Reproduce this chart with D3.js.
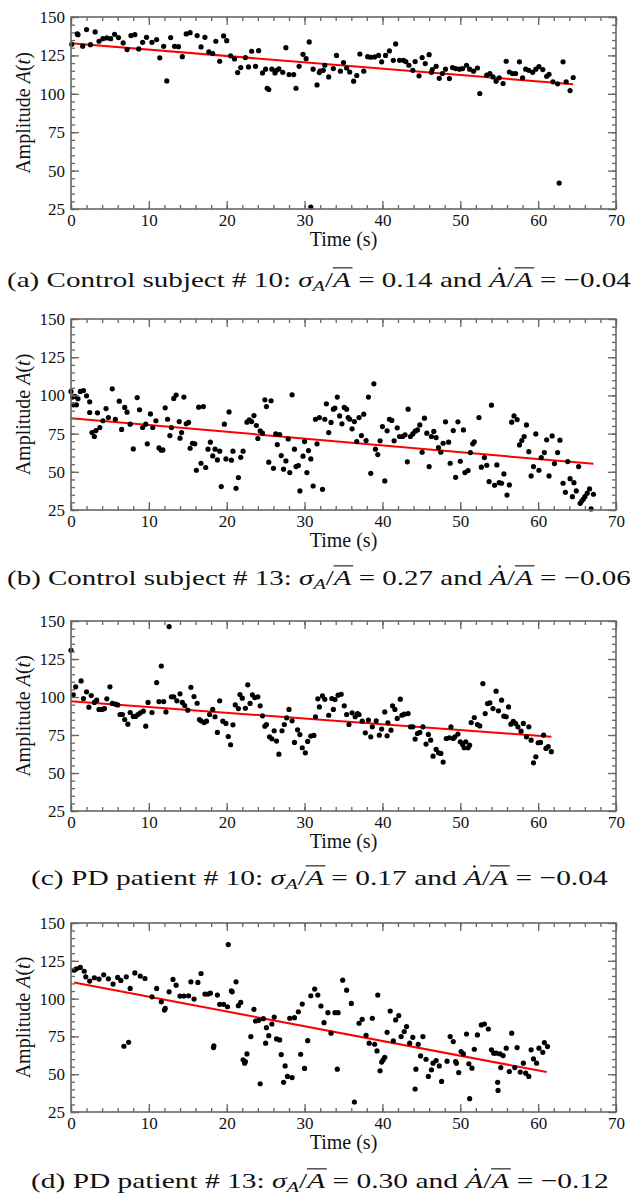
<!DOCTYPE html>
<html>
<head>
<meta charset="utf-8">
<script src="https://cdn.jsdelivr.net/npm/d3@7"></script>
<style>
  body { margin: 0; background: #fff; }
  svg text { font-family: "Liberation Serif", "Times New Roman", serif; fill: #111; }
</style>
</head>
<body>
<svg id="fig" width="636" height="1195"></svg>
<script>
// amplitude A(t) samples: [time (s), amplitude]
var pointsA = [[0.1,132.2],[0.8,139],[0.9,138.5],[1.5,131],[2.0,141.8],[2.5,132],[3.1,140.3],[3.6,134.2],[4.1,135.9],[4.6,136.4],[5.1,135.9],[5.6,138.7],[6.1,136.6],[6.7,133.1],[7.2,128.8],[7.7,137.9],[8.2,138.5],[8.7,129.2],[9.2,133.5],[9.7,136.8],[10.4,133.5],[11.0,135.3],[11.4,123.4],[11.9,130.9],[12.3,108.4],[12.8,136.6],[13.3,130.9],[13.8,130.7],[14.3,124.2],[14.8,139],[15.3,139.8],[16.2,137.9],[16.7,130.5],[17.2,136.8],[17.7,127.3],[18.2,126.2],[18.6,134.2],[19.1,121.2],[19.6,137.7],[20.0,134.6],[20.5,124.7],[21.0,122.7],[21.4,113.8],[21.8,117.1],[22.4,123.6],[22.8,117.5],[23.2,127.7],[23.7,117.9],[24.1,128.1],[24.6,113.6],[25.0,116],[25.2,103.6],[25.4,102.8],[25.8,116],[26.2,113.6],[26.4,115.3],[26.7,116.2],[27.2,114],[27.6,130],[28.0,112.5],[28.6,112.5],[28.9,103.6],[29.3,117.9],[29.8,125.7],[30.2,122.9],[30.6,133.8],[30.8,26.3],[31.1,116],[31.6,105.8],[31.9,113.8],[32.0,114.7],[32.4,115.3],[32.6,118.6],[33.1,111],[33.7,116.4],[34.1,125],[34.6,114.7],[35.0,120.3],[35.4,116.8],[35.8,114.2],[36.3,108.2],[36.7,111.9],[37.1,125.9],[37.6,114.7],[38.1,124.2],[38.5,123.8],[39.0,124],[39.5,125],[39.9,120.8],[40.4,125],[40.9,127.9],[41.4,121.8],[41.7,132.5],[42.2,121.8],[42.7,121.8],[43.0,121],[43.4,118.6],[43.9,115.3],[44.2,121],[44.7,111.7],[45.1,123.6],[45.5,119.7],[46.0,125.5],[46.3,114],[46.4,115.8],[46.9,117.9],[47.3,110.1],[47.7,113.2],[48.1,116],[48.6,109.9],[49.0,117.1],[49.4,116.4],[49.9,116],[50.3,116.4],[50.8,118.6],[51.2,116],[51.7,114.7],[52.2,116.8],[52.5,100.2],[53.4,112.1],[53.8,113.2],[54.2,111],[54.6,108.2],[55.0,110.4],[55.5,106.7],[55.9,121.2],[56.3,114.2],[56.7,113.2],[57.1,113.2],[57.6,120.8],[58.0,110.4],[58.4,116],[58.8,115.3],[59.3,114],[59.7,116],[60.1,117.7],[60.6,115.8],[61.1,111.4],[61.4,112.7],[61.9,107.8],[62.5,106.5],[62.7,41.9],[63.2,120.8],[63.6,107.8],[64.1,102.1],[64.5,110.6]];

var pointsB = [[0,102.6],[0.2,98.9],[0.3,93.8],[0.5,99.3],[0.7,93.8],[0.9,97.8],[1.2,102.6],[1.6,103.2],[2.0,99.7],[2.4,95.8],[2.4,88.8],[2.7,75.7],[3.0,73.1],[3.2,77],[3.4,88.6],[3.7,79],[4.1,83.4],[4.5,91.4],[4.8,85.5],[5.3,104.3],[5.7,84.4],[6.2,96.2],[6.5,77.7],[6.9,92.1],[7.2,89],[7.6,81.2],[8.0,65],[8.5,98.6],[8.8,90.6],[9.2,79],[9.6,81.2],[9.8,68.3],[10.2,87.9],[10.5,79],[10.9,83.4],[11.3,65.6],[11.6,64.1],[11.8,64.3],[12.1,91.9],[12.4,84.4],[12.7,73.7],[12.9,79],[13.2,98],[13.5,100.2],[13.9,82.9],[14.0,72],[14.2,75.7],[14.5,98.9],[14.8,81.4],[15.1,82.3],[15.3,65.4],[15.6,68.7],[15.9,68.3],[16.1,51],[16.4,92.3],[16.7,55.6],[17.0,92.7],[17.3,52.8],[17.6,64.8],[17.9,69.4],[18.2,60.4],[18.5,64.8],[18.8,57.8],[19.1,63.5],[19.3,40.3],[19.7,81.2],[19.9,58.4],[20.3,89.2],[20.6,57.6],[20.8,63.5],[21.2,39.2],[21.5,46.2],[21.8,59.5],[22.1,63.5],[22.6,82.5],[22.9,84],[23.2,82.9],[23.5,86.8],[23.8,80.3],[24.0,71.8],[24.3,76.8],[24.6,75.3],[24.9,97.1],[25.1,92.7],[25.4,56.3],[25.7,96.5],[26.0,52.3],[26.3,74.8],[26.5,67.8],[26.8,74.4],[27.0,60.6],[27.3,51.7],[27.6,57.1],[27.9,71.5],[28.1,49.5],[28.4,100.4],[28.7,64.8],[28.9,53.4],[29.2,54.1],[29.4,37.5],[29.8,60.2],[30.0,69.8],[30.3,49.5],[30.5,63.9],[30.8,58.4],[31.1,40.7],[31.4,84.4],[31.6,68.3],[31.9,85.5],[32.3,38.5],[32.6,84.4],[32.8,94.5],[33.1,75.7],[33.4,82.3],[33.7,91],[33.9,91.7],[34.2,98.9],[34.5,86.6],[34.8,81.4],[35.1,92.1],[35.4,91],[35.6,85.5],[35.8,84.4],[36.1,78.1],[36.4,82.9],[36.7,69.8],[37.0,85.5],[37.3,73.7],[37.6,87.7],[37.9,70.5],[38.2,98.9],[38.5,49],[38.9,107.6],[39.1,64.8],[39.4,61.3],[39.7,70.3],[40.0,79.6],[40.3,44],[40.6,76.8],[40.9,84.4],[41.2,83.6],[41.5,70.3],[41.9,78.8],[42.2,73.1],[42.6,73.1],[42.9,74.2],[43.2,56.5],[43.3,91],[43.6,73.1],[43.9,74.8],[44.2,76.6],[44.5,77.4],[44.8,80.7],[45.1,62.8],[45.4,85.1],[45.7,75.3],[46.0,53.4],[46.3,73.1],[46.6,76.4],[46.9,72.4],[47.2,65.9],[47.5,62.8],[47.8,68.7],[48.1,82.7],[48.5,69.4],[48.7,55.6],[49.1,77],[49.4,46.4],[49.7,82.7],[50.0,56.9],[50.4,77.4],[50.6,49.5],[51.0,50.8],[51.3,62.6],[51.6,68.3],[51.8,69.6],[52.4,85.5],[52.7,53],[53.1,59.3],[53.4,54.3],[53.7,43.6],[54.0,93.6],[54.4,41.2],[54.7,54.5],[55.0,42.9],[55.3,42.5],[55.6,48.6],[56.0,34.8],[56.3,41.4],[56.6,82.5],[56.9,86.6],[57.3,84.2],[57.6,67.6],[57.9,70.5],[58.2,73.1],[58.5,80.7],[58.8,63.2],[59.1,47.3],[59.4,53.4],[59.7,74.8],[60.1,51],[60.4,59.3],[60.8,62.6],[61.1,70.9],[61.4,47.3],[61.8,73.5],[62.1,55.4],[62.5,62.6],[62.8,70.7],[63.2,42.5],[63.5,36.6],[63.8,56.7],[64.1,45.5],[64.4,33.7],[64.6,42.9],[64.9,37.5],[65.2,53.4],[65.4,29.4],[65.6,30.9],[65.8,32.2],[66.0,33.7],[66.3,36],[66.6,38.8],[66.8,25.7],[67.1,35.3]];

var pointsC = [[0,130.7],[0.3,101.4],[0.6,106.7],[1.3,110.6],[1.6,99],[2.0,103.4],[2.3,93.3],[2.6,101],[3.0,96.4],[3.3,97.9],[3.6,91.8],[4.0,91.8],[4.3,92.4],[4.6,98.8],[5.0,106.7],[5.3,95.8],[5.7,95.3],[6.0,94.8],[6.3,88.5],[6.6,88.5],[6.9,85.2],[7.3,82.1],[7.6,89.8],[8.0,87.2],[8.3,87.2],[8.6,88.5],[8.9,89.6],[9.3,90.7],[9.6,80.8],[9.9,96.4],[10.4,89.8],[11.0,109.5],[11.3,97],[11.6,120.4],[11.9,97],[12.2,90.2],[12.6,146.3],[12.9,100.1],[13.2,100.1],[13.6,97.5],[14.0,102.1],[14.3,96.4],[14.6,94.4],[15.0,91.3],[15.4,106.4],[15.8,100.3],[16.2,95.9],[16.5,85.2],[16.7,84.3],[17.1,83.2],[17.4,84.1],[17.8,88.5],[18.2,91.8],[18.5,87],[18.8,76.7],[19.1,97.5],[19.5,84.1],[19.9,82.6],[20.2,74],[20.5,68.6],[20.8,81.7],[21.1,94.8],[21.5,92.4],[21.7,101.6],[22.0,99.2],[22.4,92.6],[22.7,108],[23.0,95.8],[23.3,101.4],[23.6,99.6],[24.0,100.1],[24.3,94.2],[24.6,87.6],[24.9,80.8],[25.1,81.9],[25.5,73.8],[25.8,72.5],[26.1,77.8],[26.4,71],[26.7,62.4],[27.1,77.8],[27.4,81.9],[27.7,86.3],[28.0,91.8],[28.4,84.3],[28.7,70.1],[29.1,78.4],[29.4,75.3],[29.7,66.6],[30.1,63.3],[30.4,70.8],[30.8,74.3],[31.2,74.7],[31.4,87],[31.7,98.8],[31.9,93.5],[32.3,100.7],[32.6,98.5],[33.1,88],[33.5,99],[33.7,91.8],[33.9,98.3],[34.3,101.2],[34.7,101.8],[35.1,94.2],[35.4,88.5],[35.7,81.9],[36.1,89.6],[36.5,87],[36.8,89.1],[37.0,88.5],[37.4,84.1],[37.8,76.4],[38.2,84.8],[38.5,73.8],[38.7,80.4],[39.2,84.3],[39.6,74.9],[39.9,78.9],[40.3,90.2],[40.6,74.5],[40.7,83],[41.1,78.2],[41.3,94.2],[41.6,91.8],[41.9,85.9],[42.3,98.6],[42.5,88],[42.8,88.7],[43.3,89.1],[43.6,80.4],[43.9,80.4],[44.2,72.3],[44.5,76],[44.8,76.7],[45.2,80.4],[45.6,69],[45.9,75.4],[46.2,71.6],[46.5,61.1],[46.9,65.5],[47.2,63.3],[47.5,62.9],[47.8,57.2],[48.2,72.7],[48.6,73.2],[48.8,80.4],[49.1,72.7],[49.3,73.8],[49.7,75.6],[50.0,70.5],[50.3,68.8],[50.5,66.6],[50.7,70.5],[51.0,66.6],[51.2,68.3],[51.4,83.2],[51.8,86.5],[52.2,81.9],[52.5,81],[52.9,108.8],[53.2,89.1],[53.5,95.7],[53.8,96.1],[54.2,92.4],[54.6,103.8],[54.9,90.9],[55.3,97.9],[55.6,87.4],[55.9,87],[56.2,93.5],[56.5,82.1],[56.8,83.9],[57.1,82.6],[57.4,80.4],[57.8,77.5],[58.1,82.6],[58.5,73.8],[58.8,80.4],[59.1,71.6],[59.4,56.7],[59.7,60.7],[60.0,69.9],[60.3,70.1],[60.7,74.9],[61.0,66.2],[61.3,67.3],[61.7,64]];

var pointsD = [[0.4,118.8],[0.7,119.7],[1.2,120.6],[1.7,118.1],[1.9,114.4],[2.4,111.6],[3.0,113.8],[3.6,112.9],[4.2,115.7],[4.8,113.1],[5.4,109.6],[6.0,114],[6.4,112],[6.8,68.5],[7.1,114.4],[7.4,71.1],[7.6,106.7],[8.2,117],[8.9,114.9],[9.5,113.3],[10.4,101.2],[11.0,106.7],[11.6,97.9],[12.0,92.4],[12.1,93.5],[12.6,104.5],[13.1,112.7],[13.5,108.9],[14.0,101.7],[14.5,101.7],[15.1,101.9],[15.4,111.1],[15.8,99.7],[16.3,110.7],[16.7,116.6],[17.2,103],[17.6,103],[17.9,103.6],[18.3,67.6],[18.35,68.7],[18.8,102.3],[19.1,96.2],[19.6,96.2],[20.1,94.6],[20.2,135.7],[20.6,105.2],[20.7,104.5],[21.2,111.1],[21.5,95.3],[21.8,97.5],[22.1,59.5],[22.3,57.3],[22.4,58.4],[22.6,63.4],[23.1,74.9],[23.5,92.9],[23.7,85.2],[24.1,85.6],[24.3,43.7],[24.7,86.7],[25.0,70.5],[25.1,80.8],[25.4,75.5],[25.8,83.2],[26.1,87.8],[26.4,73.3],[26.8,72.7],[27.0,63],[27.3,44.6],[27.5,55.5],[27.8,48.5],[28.1,87],[28.4,47.8],[28.7,87.4],[29.2,91.3],[29.5,63.2],[29.7,96.4],[30.0,53.8],[30.4,72.2],[30.8,101.9],[31.3,106.3],[31.7,102.3],[32.1,95.1],[32.5,84.1],[33.0,90.7],[33.4,77.1],[33.9,90.7],[34.2,53.3],[34.3,90.7],[34.9,112.2],[35.4,105.6],[36.0,96.8],[36.4,31.6],[37.0,83.7],[37.4,86.3],[37.9,75.7],[38.3,70.5],[38.7,87],[39.0,69.8],[39.3,65.4],[39.4,102.3],[39.7,52.2],[39.9,58],[40.1,59.5],[40.3,61.2],[40.6,77.7],[41.0,91.8],[41.4,72],[41.7,85.9],[42.1,88.7],[42.4,74.9],[42.8,78.2],[43.1,81.5],[43.5,70.5],[43.9,74.4],[44.2,40.2],[44.3,53.3],[44.6,69.8],[44.9,62.1],[45.2,74.9],[45.6,59.9],[45.9,48.5],[46.3,52.9],[46.5,57.3],[46.9,59],[47.3,55.5],[47.6,45.2],[48.3,58.6],[48.7,74.9],[49.1,71.6],[49.4,58.4],[49.5,57.3],[49.8,51.1],[50.1,65],[50.4,63.4],[50.8,76.6],[51.1,56.9],[51.2,33.8],[51.5,54],[51.8,66.5],[52.2,76],[52.7,82.6],[53.1,83.2],[53.6,79.9],[54.0,66.1],[54.3,63.9],[54.6,63.9],[54.8,44.6],[54.85,39.3],[55.1,63.4],[55.2,54.4],[55.5,62.3],[55.9,67.2],[56.3,51.8],[56.6,77.1],[57.0,54.4],[57.3,67.6],[57.7,51.4],[58.1,57.3],[58.4,50.7],[58.8,48.5],[59.1,66.1],[59.4,60.1],[59.8,57.3],[60.1,67.2],[60.6,64.5],[60.8,70.9],[61.2,68.3]];

// red linear fits, start and end [time, amplitude]
var fitA = [[0, 132.9], [64.5, 106.2]];
var fitB = [[0, 85.1], [67.1, 55.2]];
var fitC = [[0, 97.2], [61.7, 73.8]];
var fitD = [[0.4, 110.6], [61.1, 51.4]];

// caption parts
var captionLabels = ["(a) Control subject # 10:", "(b) Control subject # 13:", "(c) PD patient # 10:", "(d) PD patient # 13:"];
var sigmaValues = ["0.14", "0.27", "0.17", "0.30"];
var slopeValues = ["\u22120.04", "\u22120.06", "\u22120.04", "\u22120.12"];

// axis ticks
var xMajor = [0, 10, 20, 30, 40, 50, 60, 70];
var yMajor = [25, 50, 75, 100, 125, 150];
var xDomain = [0, 70];
var yDomain = [25, 150];

var svg = d3.select('#fig');
var left = 71, right = 616;

var panels = [
    {pts: pointsA, fit: fitA, top: 17, bottom: 209, capY: 287, capX: [7, 631]},
    {pts: pointsB, fit: fitB, top: 319, bottom: 510, capY: 585, capX: [7, 631]},
    {pts: pointsC, fit: fitC, top: 621, bottom: 811, capY: 885, capX: [31, 608]},
    {pts: pointsD, fit: fitD, top: 923, bottom: 1112, capY: 1188, capX: [31, 609]}
];

var tickCol = '#666';
function styleAxis(sel) {
    sel.select('.domain').remove();
    sel.selectAll('.tick line').attr('stroke', tickCol).attr('stroke-width', 1.3);
    sel.attr('font-family', null).attr('font-size', 17);
}

panels.forEach(function (p, i) {
    var x = d3.scaleLinear().domain(xDomain).range([left, right]);
    var y = d3.scaleLinear().domain(yDomain).range([p.bottom, p.top]);
    var xMinor = d3.range(0, 70.1, 2);
    var yMinor = d3.range(25, 150.1, 5);
    var g = svg.append('g');

    // fit line
    g.append('path')
        .datum(p.fit)
        .attr('d', d3.line().x(d => x(d[0])).y(d => y(d[1])))
        .attr('fill', 'none')
        .attr('stroke', '#ff0000')
        .attr('stroke-width', 2);

    // data points
    g.selectAll('circle')
        .data(p.pts)
        .enter().append('circle')
        .attr('cx', d => x(d[0]))
        .attr('cy', d => y(d[1]))
        .attr('r', 2.6)
        .attr('fill', '#000');

    // inward ticks on all four sides: [generator, position, values, labels?, length]
    var bt = 'translate(0,' + p.bottom + ')', tp = 'translate(0,' + p.top + ')';
    var lf = 'translate(' + left + ',0)', rt = 'translate(' + right + ',0)';
    var axes = [
        [d3.axisBottom(x), bt, xMajor, true, 8], [d3.axisBottom(x), bt, xMinor, false, 4],
        [d3.axisTop(x), tp, xMajor, false, 8], [d3.axisTop(x), tp, xMinor, false, 4],
        [d3.axisLeft(y), lf, yMajor, true, 8], [d3.axisLeft(y), lf, yMinor, false, 4],
        [d3.axisRight(y), rt, yMajor, false, 8], [d3.axisRight(y), rt, yMinor, false, 4]
    ];
    axes.forEach(function (a) {
        var gen = a[0].tickValues(a[2]).tickSizeInner(-a[4]).tickSizeOuter(0)
            .tickPadding(a[0] === axes[0][0] ? 5 : 6);
        if (!a[3]) gen.tickFormat('');
        g.append('g').attr('transform', a[1]).call(gen).call(styleAxis);
    });

    g.append('rect')
        .attr('x', left).attr('y', p.top)
        .attr('width', right - left).attr('height', p.bottom - p.top)
        .attr('fill', 'none').attr('stroke', tickCol).attr('stroke-width', 1.6);

    // axis titles
    g.append('text')
        .attr('x', (left + right) / 2).attr('y', p.bottom + 37)
        .attr('text-anchor', 'middle').attr('font-size', 20)
        .text('Time (s)');

    var yl = g.append('text')
        .attr('transform', 'translate(30,' + ((p.top + p.bottom) / 2) + ') rotate(-90)')
        .attr('text-anchor', 'middle').attr('font-size', 20);
    yl.append('tspan').text('Amplitude ');
    yl.append('tspan').attr('font-style', 'italic').text('A');
    yl.append('tspan').text('(');
    yl.append('tspan').attr('font-style', 'italic').text('t');
    yl.append('tspan').text(')');

    // caption: glyphs stretched horizontally to the reference width
    var fs = 22;
    var cg = svg.append('g');
    var cap = cg.append('text').attr('x', 0).attr('y', 0).attr('font-size', fs);
    cap.append('tspan').text(captionLabels[i] + ' ');
    cap.append('tspan').attr('font-style', 'italic').text('\u03c3');
    cap.append('tspan').attr('font-style', 'italic').attr('font-size', fs * 0.7).attr('dy', fs * 0.2).text('A');
    cap.append('tspan').attr('dy', -fs * 0.2).text('/');
    cap.append('tspan').attr('class', 'ov').attr('font-style', 'italic').text('A');
    cap.append('tspan').text(' = ' + sigmaValues[i] + ' and ');
    cap.append('tspan').attr('class', 'dt').attr('font-style', 'italic').text('A');
    cap.append('tspan').text('/');
    cap.append('tspan').attr('class', 'ov').attr('font-style', 'italic').text('A');
    cap.append('tspan').text(' = ' + slopeValues[i]);
    var w = cap.node().getComputedTextLength();
    var sx = (p.capX[1] - p.capX[0]) / w;
    cg.attr('transform', 'translate(' + p.capX[0] + ',' + p.capY + ') scale(' + sx + ',1)');

    cap.selectAll('.ov').each(function () {
        var b = this.getBBox();
        cg.append('line')
            .attr('x1', b.x + 1.5).attr('x2', b.x + b.width + 1)
            .attr('y1', -fs * 0.87).attr('y2', -fs * 0.87)
            .attr('stroke', '#111').attr('stroke-width', 1.1);
    });
    cap.selectAll('.dt').each(function () {
        var b = this.getBBox();
        cg.append('ellipse')
            .attr('cx', b.x + b.width * 0.62).attr('cy', -fs * 0.84)
            .attr('rx', fs * 0.055 / sx).attr('ry', fs * 0.055).attr('fill', '#111');
    });
});
</script>
</body>
</html>
